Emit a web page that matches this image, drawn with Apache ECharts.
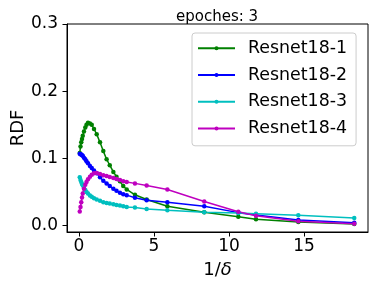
<!DOCTYPE html>
<html>
<head>
<meta charset="utf-8">
<script src="https://cdn.jsdelivr.net/npm/echarts@6/dist/echarts.min.js"></script>
<style>html,body{margin:0;padding:0;background:#fff}#c{width:375px;height:288px}</style>
</head>
<body>
<div id="c"></div>
<script>
const xValues = [0.05, 0.1, 0.15, 0.2, 0.25, 0.33, 0.42, 0.5, 0.6, 0.73, 0.85, 1.0, 1.18, 1.4, 1.62, 1.84, 2.05, 2.29, 2.5, 2.73, 2.95, 3.18, 3.73, 4.51, 5.89, 8.35, 10.62, 11.8, 14.62, 18.35];
const resnet1 = [0.108, 0.118, 0.124, 0.129, 0.134, 0.140, 0.146, 0.150, 0.153, 0.152, 0.150, 0.144, 0.136, 0.124, 0.111, 0.099, 0.090, 0.080, 0.073, 0.066, 0.059, 0.054, 0.046, 0.039, 0.029, 0.020, 0.0135, 0.0095, 0.0055, 0.0025];
const resnet2 = [0.107, 0.1065, 0.106, 0.105, 0.104, 0.101, 0.099, 0.096, 0.093, 0.089, 0.086, 0.082, 0.078, 0.072, 0.067, 0.063, 0.059, 0.055, 0.052, 0.049, 0.047, 0.0455, 0.0415, 0.038, 0.035, 0.029, 0.0195, 0.016, 0.0085, 0.0045];
const resnet3 = [0.072, 0.068, 0.065, 0.062, 0.060, 0.056, 0.053, 0.050, 0.048, 0.045, 0.043, 0.041, 0.039, 0.037, 0.035, 0.034, 0.033, 0.032, 0.031, 0.030, 0.029, 0.028, 0.027, 0.025, 0.023, 0.020, 0.019, 0.018, 0.0155, 0.0115];
const resnet4 = [0.021, 0.028, 0.035, 0.042, 0.048, 0.055, 0.061, 0.065, 0.069, 0.073, 0.076, 0.078, 0.0785, 0.077, 0.075, 0.074, 0.0725, 0.071, 0.0695, 0.068, 0.066, 0.065, 0.063, 0.060, 0.054, 0.036, 0.0207, 0.0148, 0.0068, 0.0028];
const seriesNames = ['Resnet18-1', 'Resnet18-2', 'Resnet18-3', 'Resnet18-4'];
const seriesColors = ['#008000', '#0000ff', '#00bfbf', '#bf00bf'];
const xTicks = [0, 5, 10, 15];
const yTicks = [0, 0.1, 0.2, 0.3];
const titleText = 'epoches: 3';
const xName = '1/δ';
const yName = 'RDF';

const allY = [resnet1, resnet2, resnet3, resnet4];
const font = 'DejaVu Sans';
const chart = echarts.init(document.getElementById('c'), null, {renderer: 'canvas'});
chart.setOption({
  animation: false,
  backgroundColor: '#fff',
  title: {
    text: titleText, left: 171, top: 5,
    textStyle: {fontFamily: font, fontSize: 15, fontWeight: 'normal', color: '#000'}
  },
  grid: {left: 67, top: 24, right: 7, bottom: 56, show: true, borderColor: '#000', borderWidth: 1, backgroundColor: 'transparent', containLabel: false, outerBoundsMode: 'none'},
  legend: {
    left: 192, top: 33, orient: 'vertical',
    itemWidth: 37, itemHeight: 5, itemGap: 0,
    padding: [2, 9, 4, 5],
    backgroundColor: 'rgba(255,255,255,0.8)', borderColor: '#cccccc', borderWidth: 1, borderRadius: 3,
    textStyle: {fontFamily: font, fontSize: 17.4, color: '#000', lineHeight: 26.7, padding: [0, 0, 0, 8]},
    data: seriesNames
  },
  xAxis: {
    type: 'value', min: -0.8, max: 19.267,
    name: xName.slice(0, 2) + '{d|' + xName.slice(2) + '}', nameLocation: 'middle', nameGap: 29,
    nameMoveOverlap: false,
    nameTextStyle: {fontFamily: font, fontSize: 18, color: '#000',
      rich: {d: {fontFamily: font, fontSize: 18, fontStyle: 'italic', color: '#000'}}},
    splitLine: {show: false},
    axisLine: {show: true, onZero: false, lineStyle: {color: '#000', width: 1}},
    axisTick: {show: true, customValues: xTicks, length: 4.5, lineStyle: {color: '#000'}},
    axisLabel: {customValues: xTicks, fontFamily: font, fontSize: 17, color: '#000', margin: 6}
  },
  yAxis: {
    type: 'value', min: -0.0093, max: 0.3,
    name: yName, nameLocation: 'middle', nameGap: 40, nameRotate: 90,
    nameMoveOverlap: false,
    nameTextStyle: {fontFamily: font, fontSize: 18, color: '#000'},
    splitLine: {show: false},
    axisLine: {show: true, onZero: false, lineStyle: {color: '#000', width: 1}},
    axisTick: {show: true, customValues: yTicks, length: 4.5, lineStyle: {color: '#000'}},
    axisLabel: {customValues: yTicks, fontFamily: font, fontSize: 17, color: '#000', margin: 9, formatter: v => v.toFixed(1)}
  },
  series: seriesNames.map((n, i) => ({
    name: n, type: 'line', symbol: 'circle', symbolSize: 4.5, showSymbol: true,
    color: seriesColors[i],
    lineStyle: {width: 1.5, color: seriesColors[i]},
    itemStyle: {color: seriesColors[i]},
    data: xValues.map((x, j) => [x, allY[i][j]])
  }))
});
</script>
</body>
</html>
